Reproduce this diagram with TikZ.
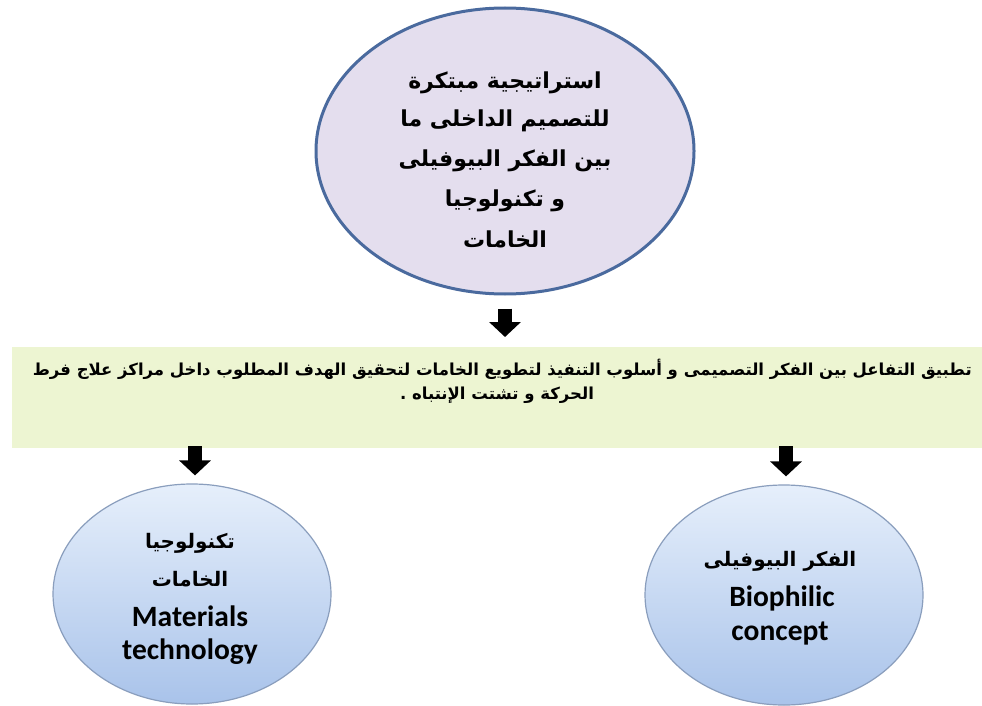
\documentclass[tikz,border=0pt]{standalone}
\usepackage{fontspec}
\setmainfont{Carlito}
\newfontfamily\arabicfont[Script=Arabic]{DejaVu Sans}
\TeXXeTstate=1
\usetikzlibrary{arrows.meta,shapes.geometric}
\definecolor{topfill}{HTML}{E4DEEE}
\definecolor{topborder}{HTML}{4A6A9E}
\definecolor{bannerfill}{HTML}{EDF5D2}
\definecolor{bluetop}{HTML}{E6EFFB}
\definecolor{bluebot}{HTML}{A9C3EA}
\definecolor{blueborder}{HTML}{8A9EBD}
\tikzset{
  topell/.style={ellipse, draw=topborder, line width=3pt, fill=topfill, minimum width=378pt, minimum height=286pt, inner sep=0pt},
  botell/.style={ellipse, draw=blueborder, line width=1.2pt, top color=bluetop, bottom color=bluebot, minimum width=278pt, minimum height=220pt, inner sep=0pt},
  banner/.style={rectangle, fill=bannerfill, minimum width=970pt, minimum height=101pt, inner sep=0pt, anchor=north west},
  blockarrow/.style={line width=14pt, -{Triangle[length=15pt,width=31pt]}, black},
  topline/.style={font=\arabicfont\bfseries\fontsize{22}{26}\selectfont, inner sep=0pt, text=black},
  bandline/.style={font=\arabicfont\bfseries\fontsize{16.5}{20}\selectfont, inner sep=0pt, text=black},
  arline/.style={font=\arabicfont\bfseries\fontsize{20}{24}\selectfont, inner sep=0pt, text=black},
  enline/.style={font=\bfseries\fontsize{29.5}{32}\selectfont, inner sep=0pt, text=black},
}
\begin{document}
\begin{tikzpicture}[x=1pt,y=-1pt]
\useasboundingbox[fill=white] (0,0) rectangle (982,706);
\node[topell] (top) at (505,151) {};
\node[topline] (t1) at (505,83) {\beginR استراتيجية مبتكرة\endR};
\node[topline] (t2) at (505,121) {\beginR للتصميم الداخلى ما\endR};
\node[topline] (t3) at (505,161) {\beginR بين الفكر البيوفيلى\endR};
\node[topline] (t4) at (505,201) {\beginR و تكنولوجيا\endR};
\node[topline] (t5) at (505,239) {\beginR الخامات\endR};
\node[banner] (band) at (12,347) {};
\node[bandline, anchor=east] (b1) at (972,369) {\beginR تطبيق التفاعل بين الفكر التصميمى و أسلوب التنفيذ لتطويع الخامات لتحقيق الهدف المطلوب داخل مراكز علاج فرط\endR};
\node[bandline] (b2) at (497,395) {\beginR الحركة و تشتت الإنتباه .\endR};
\node[botell] (left) at (192,594) {};
\node[arline] (l1) at (190,543) {\beginR تكنولوجيا\endR};
\node[arline] (l2) at (190,579) {\beginR الخامات\endR};
\node[enline] (l3) at (190,616) {Materials};
\node[enline] (l4) at (190,652) {technology};
\node[botell] (right) at (784,595) {};
\node[arline] (r1) at (780,561) {\beginR الفكر البيوفيلى\endR};
\node[enline] (r2) at (782,598) {Biophilic};
\node[enline] (r3) at (780,634) {concept};
\draw[blockarrow] ([yshift=-13pt]top.south) -- ([yshift=10pt]band.north -| top.south);
\coordinate (bl) at (195,446);
\coordinate (br) at (786,446);
\draw[blockarrow] (bl) -- ([yshift=8pt]left.north -| bl);
\draw[blockarrow] (br) -- ([yshift=8pt]right.north -| br);
\end{tikzpicture}
\end{document}
